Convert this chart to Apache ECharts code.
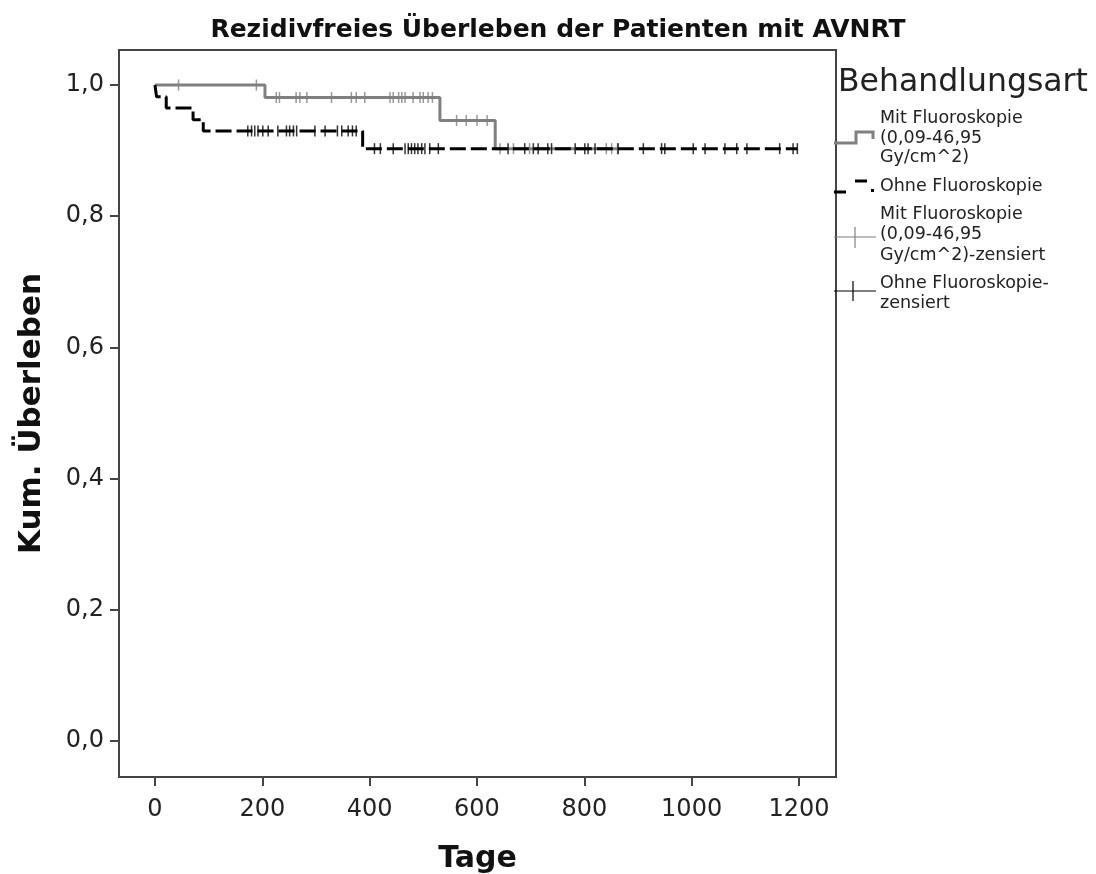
<!DOCTYPE html>
<html><head><meta charset="utf-8">
<script src="https://cdn.jsdelivr.net/npm/echarts@6/dist/echarts.min.js"></script>
<style>html,body{margin:0;padding:0;background:#fff}#c{width:1096px;height:874px}</style>
</head><body><div id="c"></div>
<script>
// Kaplan-Meier steps
const mitTimes = [0, 205, 531, 634, 862];
const mitSurv  = [1, 0.981, 0.946, 0.903, 0.903];
const ohneTimes = [0, 3, 21, 71, 90, 387, 1197];
const ohneSurv  = [1, 0.982, 0.965, 0.947, 0.930, 0.903, 0.903];
// censored observations (days)
const mitCensor = [44, 189, 226, 232, 263, 270, 283, 329, 366, 375, 391, 438, 444, 454, 460, 466, 481, 494, 500, 509, 517, 562, 580, 600, 619, 643, 668, 698, 841, 851, 862];
const ohneCensor = [173, 180, 186, 192, 201, 211, 229, 245, 251, 258, 264, 298, 317, 340, 348, 360, 368, 375, 409, 420, 444, 466, 472, 478, 484, 490, 497, 503, 512, 528, 658, 689, 705, 714, 732, 739, 783, 801, 807, 820, 863, 910, 944, 950, 1003, 1025, 1062, 1084, 1103, 1164, 1189, 1197];
const xTicks = [0, 200, 400, 600, 800, 1000, 1200];
const yTicks = [0, 0.2, 0.4, 0.6, 0.8, 1.0];

function levelAt(times, surv, t) {
  let v = surv[0];
  for (let i = 0; i < times.length; i++) if (times[i] <= t) v = surv[i];
  return v;
}
const mitLine = mitTimes.map((t, i) => [t, mitSurv[i]]);
const ohneLine = ohneTimes.map((t, i) => [t, ohneSurv[i]]);
const mitC = mitCensor.map(t => [t, levelAt(mitTimes, mitSurv, t)]);
const ohneC = ohneCensor.map(t => [t, levelAt(ohneTimes, ohneSurv, t)]);

const GRAY = '#808080';
const FONT = 'DejaVu Sans';
const AX = {color: '#444', width: 2};
const chart = echarts.init(document.getElementById('c'));
chart.setOption({
  animation: false,
  backgroundColor: '#fff',
  title: {
    text: 'Rezidivfreies Überleben der Patienten mit AVNRT',
    left: 553, top: 13, textAlign: 'center',
    textStyle: {fontFamily: FONT, fontWeight: 'bold', fontSize: 25, color: '#111'}
  },
  grid: {left: 119, right: 260, top: 50, bottom: 97, show: true, borderColor: '#444', borderWidth: 2,
    backgroundColor: '#fff', outerBoundsMode: 'none', containLabel: false},
  xAxis: {
    type: 'value', min: -67, max: 1269,
    name: 'Tage', nameLocation: 'middle', nameGap: 67,
    nameTextStyle: {fontFamily: FONT, fontWeight: 'bold', fontSize: 30, color: '#111'},
    axisLine: {show: true, onZero: false, lineStyle: AX},
    splitLine: {show: false},
    axisTick: {show: true, customValues: xTicks, length: 9, lineStyle: AX},
    axisLabel: {customValues: xTicks, margin: 21, fontFamily: FONT, fontSize: 24, color: '#222',
      formatter: v => String(v)}
  },
  yAxis: {
    type: 'value', min: -0.0549, max: 1.0534,
    name: 'Kum. Überleben', nameLocation: 'middle', nameGap: 72,
    nameTextStyle: {fontFamily: FONT, fontWeight: 'bold', fontSize: 31, color: '#111'},
    axisLine: {show: true, onZero: false, lineStyle: AX},
    splitLine: {show: false},
    axisTick: {show: true, customValues: yTicks, length: 9, lineStyle: AX},
    axisLabel: {customValues: yTicks, margin: 15, fontFamily: FONT, fontSize: 24, color: '#222',
      formatter: v => v.toFixed(1).replace('.', ',')}
  },
  series: [
    {name: 'Mit Fluoroskopie', type: 'line', step: 'end', data: mitLine, showSymbol: false, symbol: 'none',
     lineStyle: {color: GRAY, width: 3}, z: 2},
    {name: 'Mit Fluoroskopie zensiert', type: 'scatter', data: mitC, symbol: 'rect', symbolSize: [1.5, 11],
     itemStyle: {color: GRAY}, z: 3},
    {name: 'Ohne Fluoroskopie', type: 'line', step: 'end', data: ohneLine, showSymbol: false, symbol: 'none',
     lineStyle: {color: '#000', width: 3, type: [16, 5]}, z: 4},
    {name: 'Ohne Fluoroskopie zensiert', type: 'scatter', data: ohneC, symbol: 'rect', symbolSize: [1.5, 11],
     itemStyle: {color: '#000'}, z: 5}
  ],
  graphic: [
    {type: 'text', left: 838, top: 67, style: {text: 'Behandlungsart', fontFamily: FONT, fontSize: 31.5, fill: '#222'}},
    {type: 'text', left: 880, top: 109, style: {text: 'Mit Fluoroskopie\n(0,09-46,95\nGy/cm^2)', fontFamily: FONT, fontSize: 17.5, lineHeight: 19.5, fill: '#222'}},
    {type: 'text', left: 880, top: 177, style: {text: 'Ohne Fluoroskopie', fontFamily: FONT, fontSize: 17.5, lineHeight: 19.5, fill: '#222'}},
    {type: 'text', left: 880, top: 204, style: {text: 'Mit Fluoroskopie\n(0,09-46,95\nGy/cm^2)-zensiert', fontFamily: FONT, fontSize: 17.5, lineHeight: 20.5, fill: '#222'}},
    {type: 'text', left: 880, top: 273, style: {text: 'Ohne Fluoroskopie-\nzensiert', fontFamily: FONT, fontSize: 17.5, lineHeight: 20, fill: '#222'}},
    {type: 'polyline', shape: {points: [[834, 143], [856, 143], [856, 132], [873, 132], [873, 139]]}, style: {stroke: GRAY, lineWidth: 3, fill: null}},
    {type: 'polyline', shape: {points: [[834, 192], [846, 192]]}, style: {stroke: '#000', lineWidth: 3}},
    {type: 'polyline', shape: {points: [[855, 181], [867, 181]]}, style: {stroke: '#000', lineWidth: 3}},
    {type: 'rect', shape: {x: 871, y: 189, width: 3, height: 3}, style: {fill: '#000'}},
    {type: 'polyline', shape: {points: [[834, 237], [876, 237]]}, style: {stroke: GRAY, lineWidth: 1.2}},
    {type: 'polyline', shape: {points: [[855, 227], [855, 248]]}, style: {stroke: GRAY, lineWidth: 1.2}},
    {type: 'polyline', shape: {points: [[834, 291], [876, 291]]}, style: {stroke: '#000', lineWidth: 1.2}},
    {type: 'polyline', shape: {points: [[853, 281], [853, 301]]}, style: {stroke: '#000', lineWidth: 1.2}}
  ]
});
</script></body></html>
